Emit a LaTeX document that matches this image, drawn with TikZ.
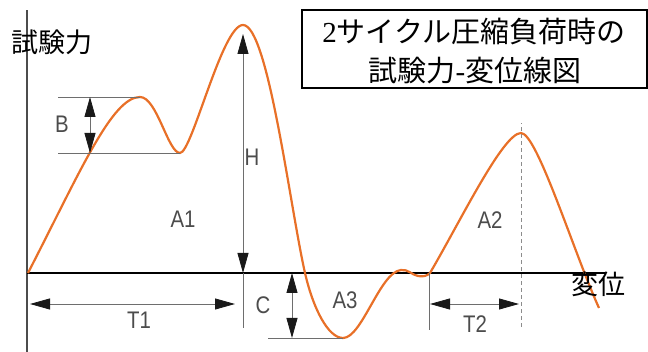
\documentclass[tikz,border=0pt]{standalone}
\usepackage{fontspec}
\usepackage{xcolor}
\usepackage{tikz}
\usetikzlibrary{arrows.meta}
\setmainfont{Liberation Serif}
\newfontfamily\jp{Noto Sans CJK JP}
\newfontfamily\lab[FakeStretch = 0.85]{Liberation Sans}
\definecolor{curveorange}{RGB}{232,112,40}
\definecolor{dimgray}{RGB}{110,110,110}

\tikzset{
    dimline/.style = {color = dimgray, line width = 0.8pt},
    dimarrow/.style = {dimline, {Triangle[length = 20pt, width = 11pt, color = black!90]}-{Triangle[length = 20pt, width = 11pt, color = black!90]}},
    lbl/.style = {font = \lab\fontsize{24}{24}\selectfont, text = black!70, inner sep = 0pt},
    jplbl/.style = {font = \jp\fontsize{27}{27}\selectfont, inner sep = 0pt}
}

\begin{document}
\begin{tikzpicture}[x = 1pt, y = 1pt]
        \useasboundingbox (0, 0) rectangle (648, 352);

        \coordinate (origin) at (28, 79);
        \coordinate (bpeak) at (140, 255);
        \coordinate (bmin) at (180, 199);
        \coordinate (hpeak) at (243, 327);
        \coordinate (cross) at (305, 79);
        \coordinate (cmin) at (343, 14);
        \coordinate (bump) at (401, 82);
        \coordinate (dip) at (418, 76);
        \coordinate (tstart) at (430, 79);
        \coordinate (peaktwo) at (521, 219);
        \coordinate (tail) at (599, 44);

                \draw [color = black!70, line width = 1.6pt] (27, 0) -- (27, 342);
                \draw [color = black, line width = 2.2pt] (27, 79) -- (605, 79);

        \draw [color = curveorange, line width = 2.2pt] (origin)
            .. controls (80, 180) and (112, 255) .. (bpeak)
            .. controls (157, 255) and (168, 199) .. (bmin)
            .. controls (192, 199) and (222, 327) .. (hpeak)
            .. controls (268, 327) and (290, 145) .. (cross)
            .. controls (313, 44) and (328, 14) .. (cmin)
            .. controls (362, 14) and (380, 80) .. (bump)
            .. controls (408, 83) and (412, 77) .. (dip)
            .. controls (423, 75) and (427, 76) .. (tstart)
            .. controls (460, 130) and (503, 219) .. (peaktwo)
            .. controls (537, 219) and (574, 99) .. (tail);

        % B
        \coordinate (btopl) at (58, 255);
        \coordinate (bbotl) at (58, 199);
        \draw [dimline] (btopl) -- (bpeak);
        \draw [dimline] (bbotl) -- (bmin);
        \coordinate (barrtop) at (90, 255);
        \coordinate (barrbot) at (90, 199);
        \draw [dimarrow] (barrbot) -- (barrtop);
        \node [lbl] (labB) at (62, 228) {B};

        % H
        \coordinate (hbot) at (243, 24);
        \coordinate (haxis) at (243, 79);
        \coordinate (htop) at (243, 318);
        \draw [dimline] (hbot) -- (haxis);
        \draw [dimarrow] (haxis) -- (htop);
        \node [lbl] (labH) at (252, 195) {H};

        % T1
        \coordinate (tonel) at (30, 48);
        \coordinate (toner) at (235, 48);
        \draw [dimarrow] (tonel) -- (toner);
        \node [lbl] (labTone) at (139, 32) {T1};

        % C
        \coordinate (cbotl) at (268, 14);
        \coordinate (carrtop) at (292, 79);
        \coordinate (carrbot) at (292, 14);
        \draw [dimline] (cbotl) -- (cmin);
        \draw [dimarrow] (carrbot) -- (carrtop);
        \node [lbl] (labC) at (263, 47) {C};

        % T2
        \coordinate (ttwobot) at (429, 22);
        \coordinate (ttwoaxis) at (429, 79);
        \draw [dimline] (ttwobot) -- (ttwoaxis);
        \coordinate (ttwol) at (430, 48);
        \coordinate (ttwor) at (519, 48);
        \draw [dimarrow] (ttwol) -- (ttwor);
        \coordinate (dashtop) at (521, 229);
        \coordinate (dashbot) at (521, 25);
        \draw [dimline, dash pattern = on 4pt off 3pt, color = black!45] (dashbot) -- (dashtop);
        \node [lbl] (labTtwo) at (475, 28) {T2};

        \node [lbl] (labAone) at (183, 133) {A1};
        \node [lbl] (labAtwo) at (490, 132) {A2};
        \node [lbl] (labAthree) at (345, 52) {A3};

        \node [jplbl] (ylabel) at (52, 310) {試験力};
        \node [jplbl] (xlabel) at (598, 68) {変位};

        \draw [color = black, line width = 1.5pt] (302, 342) rectangle (647, 264);
        \node [font = \fontsize{29}{29}\selectfont, inner sep = 0pt] (titleone) at (474, 320) {2{\jp サイクル圧縮負荷時の}};
        \node [font = \fontsize{29}{29}\selectfont, inner sep = 0pt] (titletwo) at (475, 281) {{\jp 試験力}-{\jp 変位線図}};
\end{tikzpicture}
\end{document}
